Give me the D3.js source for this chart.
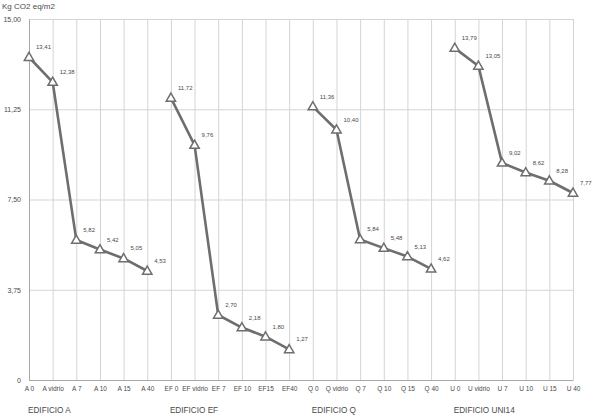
<!DOCTYPE html>
<html>
<head>
<meta charset="utf-8">
<script src="https://cdn.jsdelivr.net/npm/d3@7"></script>
<style>
  html, body { margin: 0; padding: 0; background: #fff; }
  svg { display: block; font-family: "Liberation Sans", Arial, sans-serif; }
</style>
</head>
<body>
<svg id="chart" width="600" height="420"></svg>
<script>
const categories = ["A 0","A vidrio","A 7","A 10","A 15","A 40",
  "EF 0","EF vidrio","EF 7","EF 10","EF15","EF40",
  "Q 0","Q vidrio","Q 7","Q 10","Q 15","Q 40",
  "U 0","U vidrio","U 7","U 10","U 15","U 40"];
const buildings = ["EDIFICIO A","EDIFICIO EF","EDIFICIO Q","EDIFICIO UNI14"];
const valuesA   = [13.41, 12.38, 5.82, 5.42, 5.05, 4.53];
const valuesEF  = [11.72, 9.76, 2.70, 2.18, 1.80, 1.27];
const valuesQ   = [11.36, 10.40, 5.84, 5.48, 5.13, 4.62];
const valuesU   = [13.79, 13.05, 9.02, 8.62, 8.28, 7.77];
const yTicks = [0, 3.75, 7.5, 11.25, 15];
const yTickLabels = ["0", "3,75", "7,50", "11,25", "15,00"];
const yTitle = "Kg CO2 eq/m2";

const seriesValues = [valuesA, valuesEF, valuesQ, valuesU];
const series = seriesValues.map((vals, s) =>
  vals.map((v, i) => ({ cat: categories[s * 6 + i], v })));

const svg = d3.select("#chart");
const mLeft = 29, mRight = 573, mTop = 19, mBottom = 380;

const x = d3.scalePoint().domain(categories).range([mLeft, mRight]).padding(0);
const y = d3.scaleLinear().domain([0, 15]).range([mBottom, mTop]);

const fmt = v => d3.format(".2f")(v).replace(".", ",");
const gridColor = "#d4d4d4";
const textColor = "#4a4a4a";
const lineColor = "#6e6e6e";

// horizontal grid
const yGrid = svg.append("g").attr("transform", `translate(${mLeft},0)`)
  .call(d3.axisLeft(y).tickValues(yTicks).tickSize(-(mRight - mLeft)).tickFormat(""));
yGrid.select(".domain").remove();
yGrid.selectAll(".tick line").attr("stroke", gridColor).attr("stroke-width", 1);

// vertical grid
const xGrid = svg.append("g").attr("transform", `translate(0,${mBottom})`)
  .call(d3.axisBottom(x).tickSize(-(mBottom - mTop)).tickFormat(""));
xGrid.select(".domain").remove();
xGrid.selectAll(".tick line").attr("stroke", gridColor).attr("stroke-width", 1);

// y axis labels
const yAxis = svg.append("g").attr("transform", `translate(${mLeft},0)`)
  .call(d3.axisLeft(y).tickValues(yTicks).tickSize(0).tickPadding(8)
    .tickFormat((d, i) => yTickLabels[i]));
yAxis.select(".domain").attr("stroke", "#a8a8a8");
yAxis.selectAll("text").attr("font-size", 7).attr("fill", textColor).attr("font-family", null);

// x axis labels
const xAxis = svg.append("g").attr("transform", `translate(0,${mBottom})`)
  .call(d3.axisBottom(x).tickSize(0).tickPadding(6));
xAxis.select(".domain").attr("stroke", "#a8a8a8");
xAxis.selectAll("text").attr("font-size", 6.5).attr("fill", textColor).attr("font-family", null);

// y title
svg.append("text").attr("x", 2).attr("y", 9).attr("font-size", 8)
  .attr("fill", textColor).text(yTitle);

// building labels
svg.selectAll(".bld").data(buildings).join("text")
  .attr("class", "bld")
  .attr("x", (d, i) => x(categories[i * 6]) - 1)
  .attr("y", 413)
  .attr("font-size", 8.2)
  .attr("fill", textColor)
  .text(d => d);

// lines
const line = d3.line().x(d => x(d.cat)).y(d => y(d.v));
svg.selectAll(".series").data(series).join("path")
  .attr("class", "series")
  .attr("d", line)
  .attr("fill", "none")
  .attr("stroke", lineColor)
  .attr("stroke-width", 2.6)
  .attr("stroke-linejoin", "round");

// markers
const pts = series.flat();
const tri = d3.symbol().type(d3.symbolTriangle).size(38);
svg.selectAll(".mk").data(pts).join("path")
  .attr("class", "mk")
  .attr("d", tri)
  .attr("transform", d => `translate(${x(d.cat)},${y(d.v) + 0.5})`)
  .attr("fill", "#fff")
  .attr("stroke", lineColor)
  .attr("stroke-width", 1.5);

// value labels
svg.selectAll(".lbl").data(pts).join("text")
  .attr("class", "lbl")
  .attr("x", d => x(d.cat) + 7)
  .attr("y", d => y(d.v) - 8)
  .attr("font-size", 6)
  .attr("fill", textColor)
  .text(d => fmt(d.v));
</script>
</body>
</html>
